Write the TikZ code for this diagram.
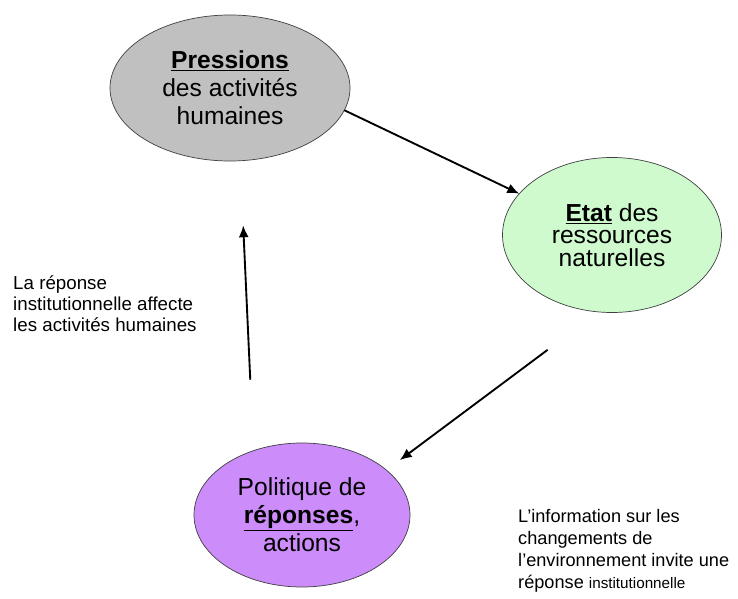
\documentclass[tikz,border=0pt]{standalone}
\usepackage{fontspec}
\setmainfont{Liberation Sans}
\usepackage{xcolor}
\usepackage{tikz}
\usetikzlibrary{arrows.meta, positioning, shapes.geometric}

\definecolor{pressgray}{RGB}{192,192,192}
\definecolor{etatgreen}{RGB}{206,250,206}
\definecolor{polpurple}{RGB}{204,140,250}

\begin{document}
\begin{tikzpicture}[
    bubble/.style={ellipse, draw=black!75, line width=0.6pt, align=center, inner sep=0pt, outer sep=0pt, font=\fontsize{21}{24}\selectfont},
    note/.style={align=left, inner sep=0pt, anchor=north west},
    arrow/.style={-{Latex[length=3.6mm, width=3mm]}, line width=1.6pt}
]
\useasboundingbox (0,0) rectangle (22.14,17.94);

\node (press) [bubble, fill=pressgray, minimum width=7.2cm, minimum height=4.38cm] at (6.9,15.3) {\underline{\textbf{Pressions}}\\des activités\\humaines};
\node (etat) [bubble, fill=etatgreen, minimum width=6.57cm, minimum height=4.65cm, font=\fontsize{21}{19}\selectfont] at (18.36,10.89) {\underline{\textbf{Etat}} des\\ressources\\naturelles};
\node (pol) [bubble, fill=polpurple, minimum width=6.48cm, minimum height=4.32cm] at (9.06,2.49) {Politique de\\\underline{\textbf{réponses}},\\actions};

\node (affect) [note, font=\fontsize{16}{18.3}\selectfont] at (0.39,9.69) {La réponse\\institutionnelle affecte\\les activités humaines};
\node (info) [note, font=\fontsize{15.5}{18.8}\selectfont] at (15.54,2.67) {L'information sur les\\changements de\\l'environnement invite une\\réponse {\fontsize{13}{15}\selectfont institutionnelle}};

\draw [arrow] (press.-11) -- (etat.156);
\draw [arrow, shorten <=1.9cm, shorten >=0.5cm] (etat.-100) -- (pol.28);
\draw [arrow, shorten <=2.13cm, shorten >=1.94cm] (pol.127) -- (press.-82);

\end{tikzpicture}
\end{document}
